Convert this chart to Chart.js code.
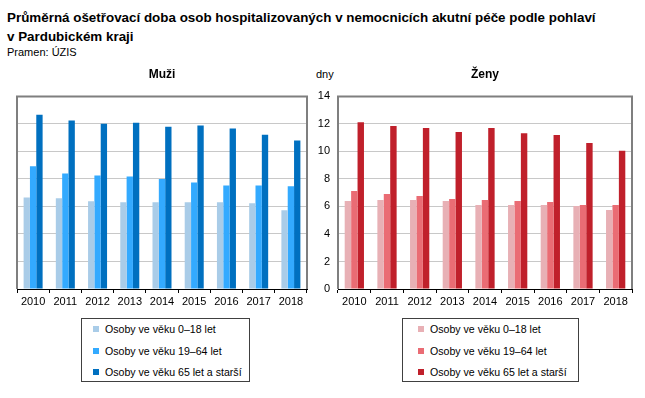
<!DOCTYPE html>
<html>
<head>
<meta charset="utf-8">
<script src="https://cdn.jsdelivr.net/npm/chart.js@4"></script>
<style>
  body { margin: 0; background: #fff; font-family: "Liberation Sans", Arial, sans-serif; }
  #wrap { position: relative; width: 645px; height: 398px; overflow: hidden; }
  .title { position: absolute; left: 7px; top: 8px; font-size: 13.4px; font-weight: bold; line-height: 19px; color: #000; }
  .src { position: absolute; left: 7px; top: 46px; font-size: 11px; color: #000; }
  .dny { position: absolute; left: 316px; top: 68px; font-size: 11px; color: #000; }
  canvas { position: absolute; }
  .legend { position: absolute; top: 318px; height: 64px; border: 1px solid #404040; box-sizing: border-box; font-size: 10.6px; color: #000; }
  .legend div { position: absolute; white-space: nowrap; }
  .legend span { display: inline-block; width: 6px; height: 6px; margin-right: 6px; vertical-align: 1px; }
</style>
</head>
<body>
<div id="wrap">
  <div class="title">Průměrná ošetřovací doba osob hospitalizovaných v nemocnicích akutní péče podle pohlaví<br>v Pardubickém kraji</div>
  <div class="src">Pramen: ÚZIS</div>
  <div class="dny">dny</div>
  <canvas id="men" width="318" height="250" style="left:0;top:60px;width:318px;height:250px"></canvas>
  <canvas id="women" width="345" height="250" style="left:300px;top:60px;width:345px;height:250px"></canvas>
  <div class="legend" id="legMen" style="left:81px;width:169px"></div>
  <div class="legend" id="legWomen" style="left:402px;width:177px"></div>
</div>
<script>
// years on the x axis
const years = ['2010', '2011', '2012', '2013', '2014', '2015', '2016', '2017', '2018'];
const seriesNames = ['Osoby ve věku 0–18 let', 'Osoby ve věku 19–64 let', 'Osoby ve věku 65 let a starší'];

// muži (men), days
const men0to18 = [6.66, 6.59, 6.37, 6.30, 6.30, 6.30, 6.30, 6.23, 5.72];
const men19to64 = [8.93, 8.40, 8.25, 8.18, 7.99, 7.75, 7.53, 7.53, 7.46];
const men65plus = [12.67, 12.24, 12.02, 12.09, 11.80, 11.88, 11.66, 11.22, 10.79];

// ženy (women), days
const women0to18 = [6.39, 6.47, 6.47, 6.39, 6.10, 6.10, 6.10, 6.03, 5.74];
const women19to64 = [7.12, 6.90, 6.76, 6.54, 6.47, 6.39, 6.32, 6.10, 6.10];
const women65plus = [12.13, 11.84, 11.70, 11.41, 11.70, 11.33, 11.19, 10.61, 10.05];

const yTicks = [0, 2, 4, 6, 8, 10, 12, 14];

const blues = ['#a9cce8', '#33aaff', '#0070c0'];
const reds = ['#e8b0b5', '#ea6c74', '#c0202b'];

Chart.defaults.font.family = '"Liberation Sans", Arial, sans-serif';
Chart.defaults.font.size = 11;
Chart.defaults.color = '#000';
Chart.defaults.animation = false;

// grey frame round the plot area
const framePlugin = {
  id: 'frame',
  afterDatasetsDraw(chart) {
    const a = chart.chartArea;
    const ctx = chart.ctx;
    ctx.save();
    ctx.strokeStyle = '#7f7f7f';
    ctx.lineWidth = 2;
    ctx.beginPath();
    ctx.moveTo(a.left, a.bottom);
    ctx.lineTo(a.left, a.top);
    ctx.lineTo(a.right, a.top);
    ctx.lineTo(a.right, a.bottom);
    ctx.stroke();
    ctx.restore();
  }
};

function makeChart(id, title, data, colors, showY) {
  const datasets = data.map((vals, i) => ({
    label: seriesNames[i],
    data: vals,
    backgroundColor: colors[i],
    borderWidth: 0
  }));
  return new Chart(document.getElementById(id), {
    type: 'bar',
    data: { labels: years, datasets: datasets },
    plugins: [framePlugin],
    options: {
      responsive: false,
      layout: { padding: showY ? { left: 0, right: 13, top: 0, bottom: 0 } : { left: 17, right: 11, top: 0, bottom: 0 } },
      datasets: { bar: { categoryPercentage: 0.59, barPercentage: 1 } },
      plugins: {
        legend: { display: false },
        tooltip: { enabled: false },
        title: {
          display: true,
          text: title,
          fullSize: false,
          font: { size: 12, weight: 'bold' },
          padding: { top: 7, bottom: 15 }
        }
      },
      scales: {
        x: {
          grid: { offset: true, drawOnChartArea: false, drawTicks: true, tickLength: 4, color: '#000' },
          border: { color: '#000', width: 1 },
          ticks: { padding: 2, maxRotation: 0 },
          afterFit: (axis) => { axis.height = 21; }
        },
        y: {
          min: 0,
          max: 14,
          afterBuildTicks: (axis) => { axis.ticks = yTicks.map(v => ({ value: v })); },
          grid: { color: '#c8c8c8', drawTicks: false },
          border: { display: showY, color: '#000', width: 1 },
          ticks: { display: showY, padding: 8 },
          afterFit: (axis) => { axis.width = showY ? 38 : 0; }
        }
      }
    }
  });
}

const menChart = makeChart('men', 'Muži', [men0to18, men19to64, men65plus], blues, false);
const womenChart = makeChart('women', 'Ženy', [women0to18, women19to64, women65plus], reds, true);

function buildLegend(chart, id, textLeft) {
  const box = document.getElementById(id);
  chart.data.datasets.forEach((ds, i) => {
    const row = document.createElement('div');
    row.style.left = textLeft + 'px';
    row.style.top = (4 + i * 21.5) + 'px';
    const sw = document.createElement('span');
    sw.style.background = ds.backgroundColor;
    row.appendChild(sw);
    row.appendChild(document.createTextNode(ds.label));
    box.appendChild(row);
  });
}
buildLegend(menChart, 'legMen', 11);
buildLegend(womenChart, 'legWomen', 15);
</script>
</body>
</html>
